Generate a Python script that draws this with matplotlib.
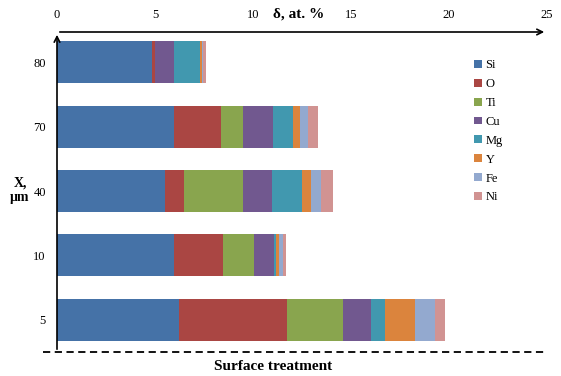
import numpy as np
import matplotlib
matplotlib.use('Agg')
import matplotlib.pyplot as plt
from matplotlib.lines import Line2D

plt.rcParams['font.family'] = ['Liberation Serif', 'DejaVu Serif']

# Данные: глубина X (мкм) и содержание элементов (ат. %)
depths = ['5', '10', '40', '70', '80']
elements = ['Si', 'O', 'Ti', 'Cu', 'Mg', 'Y', 'Fe', 'Ni']
si = [6.24, 5.97, 5.51, 5.97, 4.83]
o = [5.48, 2.52, 0.99, 2.41, 0.17]
ti = [2.89, 1.58, 2.99, 1.11, 0.0]
cu = [1.41, 1.02, 1.48, 1.53, 0.97]
mg = [0.71, 0.10, 1.51, 1.02, 1.33]
y_el = [1.55, 0.12, 0.49, 0.36, 0.10]
fe = [1.02, 0.24, 0.52, 0.42, 0.05]
ni = [0.51, 0.13, 0.58, 0.48, 0.15]
colors = ['#4572A7', '#AA4643', '#89A54E', '#71588F', '#4198AF', '#DB843D', '#93A9CF', '#D19392']

series = [si, o, ti, cu, mg, y_el, fe, ni]

fig = plt.figure(figsize=(5.61, 3.76), dpi=100)
ax = fig.add_axes([57 / 561, 1 - 352 / 376, 490 / 561, 320 / 376])

pos = np.arange(len(depths))
left = np.zeros(len(depths))
for name, vals, c in zip(elements, series, colors):
    ax.barh(pos, vals, left=left, height=0.65, color=c, label=name)
    left += np.array(vals)

ax.set_xlim(0, 25)
ax.set_ylim(-0.5, 4.47)
ax.set_yticks(pos)
ax.set_yticklabels(depths, fontsize=9)
ax.xaxis.tick_top()
ax.set_xticks([0, 5, 10, 15, 20, 25])
ax.tick_params(axis='both', length=0, labelsize=9)
ax.tick_params(axis='x', pad=8)
ax.tick_params(axis='y', pad=8)
for s in ax.spines.values():
    s.set_visible(False)

# оси со стрелками
ax.annotate('', xy=(1.0, 1.0), xytext=(0, 1.0), xycoords='axes fraction',
            arrowprops=dict(arrowstyle='->', color='black', lw=1.2))
ax.annotate('', xy=(0, 1.0), xytext=(0, 0), xycoords='axes fraction',
            arrowprops=dict(arrowstyle='->', color='black', lw=1.2))

# пунктирная линия снизу
fig.add_artist(Line2D([43 / 561, 547 / 561], [1 - 352 / 376, 1 - 352 / 376],
                      transform=fig.transFigure, color='black', lw=1.3, ls=(0, (4, 2.5))))

fig.text(299 / 561, 1 - 14 / 376, 'δ, at. %', ha='center', va='center',
         fontsize=11, fontweight='bold')
fig.text(273 / 561, 1 - 366 / 376, 'Surface treatment', ha='center', va='center',
         fontsize=11, fontweight='bold')
fig.text(20 / 561, 1 - 190 / 376, 'X,\nμm', ha='center', va='center',
         fontsize=10, fontweight='bold', linespacing=1.1)

ax.legend(loc='upper left', bbox_to_anchor=(463 / 561, 1 - 48 / 376),
          bbox_transform=fig.transFigure, frameon=False, fontsize=9,
          handlelength=0.6, handleheight=0.6, handletextpad=0.3, labelspacing=0.55)

plt.savefig('out.png', dpi=100)
